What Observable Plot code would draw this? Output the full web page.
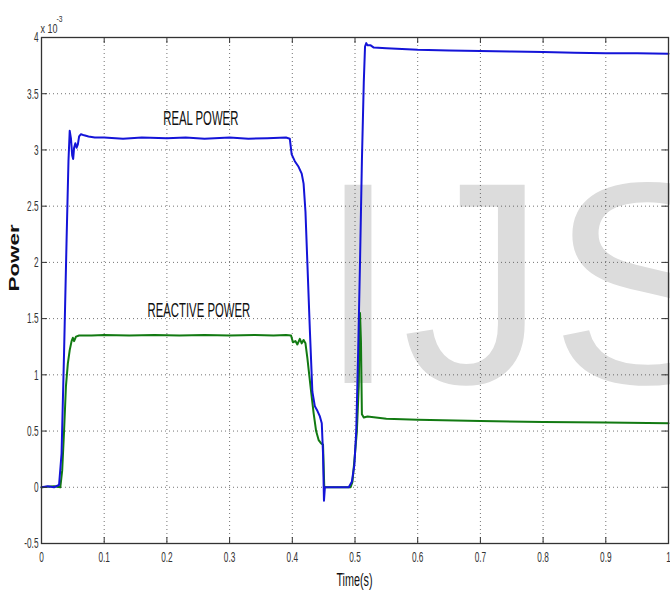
<!DOCTYPE html>
<html><head><meta charset="utf-8">
<script src="https://cdn.jsdelivr.net/npm/d3@7"></script>
<script src="https://cdn.jsdelivr.net/npm/@observablehq/plot@0.6"></script>
<style>
html,body{margin:0;padding:0;background:#fff;overflow:hidden;}
#chart{position:relative;width:670px;height:594px;}
</style>
</head><body><div id="chart"></div>
<script>
// ---- data (power in units of 1e-3) ----
const realT = [0,0.01,0.02,0.028,0.032,0.036,0.04,0.043,0.045,0.047,0.049,0.0505,0.052,0.054,0.056,0.058,0.06,0.063,0.068,0.075,0.085,0.1,0.13,0.16,0.2,0.23,0.26,0.3,0.33,0.36,0.39,0.396,0.399,0.404,0.41,0.415,0.418,0.421,0.424,0.428,0.432,0.436,0.44,0.444,0.447,0.449,0.4505,0.452,0.46,0.48,0.49,0.495,0.499,0.502,0.505,0.508,0.511,0.514,0.516,0.518,0.52,0.525,0.53,0.55,0.6,0.65,0.7,0.75,0.8,0.85,0.9,0.95,1];
const realP = [0,0.01,0,0.02,0.3,1.2,2.2,2.9,3.17,3.1,2.95,2.92,3.02,3.06,3.02,3.05,3.12,3.14,3.13,3.12,3.11,3.11,3.1,3.11,3.105,3.11,3.1,3.11,3.1,3.105,3.11,3.1,2.96,2.9,2.85,2.79,2.7,2.45,2.0,1.4,0.85,0.72,0.68,0.63,0.57,0.3,-0.12,0,0,0,0,0.05,0.2,0.5,1.2,2.0,2.9,3.6,3.92,3.95,3.93,3.93,3.91,3.905,3.89,3.885,3.88,3.875,3.87,3.865,3.86,3.86,3.855];
const reactT = [0,0.02,0.03,0.033,0.036,0.039,0.042,0.045,0.048,0.05,0.052,0.055,0.06,0.08,0.1,0.14,0.18,0.22,0.26,0.3,0.34,0.37,0.39,0.398,0.401,0.405,0.408,0.412,0.415,0.418,0.421,0.424,0.427,0.43,0.434,0.438,0.442,0.446,0.449,0.451,0.46,0.48,0.493,0.496,0.5,0.503,0.506,0.508,0.5095,0.511,0.514,0.52,0.55,0.6,0.7,0.8,0.9,1];
const reactP = [0,0.01,0,0.15,0.5,0.9,1.1,1.22,1.3,1.33,1.3,1.34,1.35,1.35,1.355,1.35,1.355,1.35,1.355,1.35,1.355,1.35,1.355,1.35,1.29,1.3,1.27,1.32,1.28,1.31,1.28,1.15,1.0,0.85,0.66,0.5,0.42,0.39,0.38,0,0,0,0,0.05,0.3,0.5,0.9,1.55,1.3,0.65,0.62,0.63,0.61,0.6,0.59,0.58,0.575,0.57];
const labelText = ["REAL POWER","REACTIVE POWER"];
const labelT = [0.254,0.251];
const labelP = [3.28,1.575];
const xTicks = [0,0.1,0.2,0.3,0.4,0.5,0.6,0.7,0.8,0.9,1];
const yTicks = [-0.5,0,0.5,1,1.5,2,2.5,3,3.5,4];

const real = realT.map((t,i)=>({t,p:realP[i]}));
const reactive = reactT.map((t,i)=>({t,p:reactP[i]}));
const labels = labelText.map((s,i)=>({s,t:labelT[i],p:labelP[i]}));

const font = '"Liberation Sans",Arial,sans-serif';
const W=670,H=594,mL=41,mR=2,mT=37,mB=51;
const pw=W-mL-mR, ph=H-mT-mB;

const plot = Plot.plot({
  width:W,height:H,marginLeft:mL,marginRight:mR,marginTop:mT,marginBottom:mB,
  style:{fontFamily:font,fontSize:"15px",background:"transparent",color:"#222"},
  x:{domain:[0,1]}, y:{domain:[-0.5,4]},
  marks:[
    Plot.gridX(xTicks,{stroke:"#444",strokeOpacity:0.75,strokeDasharray:"1,3"}),
    Plot.gridY(yTicks,{stroke:"#444",strokeOpacity:0.75,strokeDasharray:"1,3"}),
    Plot.line(reactive,{x:"t",y:"p",stroke:"#127a12",strokeWidth:2}),
    Plot.line(real,{x:"t",y:"p",stroke:"#1414d8",strokeWidth:2}),
    Plot.text(labels,{x:"t",y:"p",text:"s",fontSize:21,fill:"#111"}),
    Plot.tickX(xTicks,{x:d=>d,insetTop:ph-6,stroke:"#333"}),
    Plot.tickX(xTicks,{x:d=>d,insetBottom:ph-6,stroke:"#333"}),
    Plot.tickY(yTicks,{y:d=>d,insetRight:pw-6,stroke:"#333"}),
    Plot.tickY(yTicks,{y:d=>d,insetLeft:pw-6,stroke:"#333"}),
    Plot.frame({stroke:"#333",strokeWidth:1.3}),
    Plot.axisX(xTicks,{tickSize:0,tickPadding:8,tickFormat:d=>String(d),label:null,fontSize:15,fill:"#333"}),
    Plot.axisY(yTicks,{tickSize:0,tickPadding:3,tickFormat:d=>String(d),label:null,fontSize:15,fill:"#333"}),
    Plot.text(["Time(s)"],{frameAnchor:"bottom",dx:-0.5,dy:42,fontSize:18,fill:"#111"}),
    Plot.text(["Power"],{frameAnchor:"left",dx:-27,dy:1,rotate:-90,fontSize:14,fontWeight:"bold",fill:"#111"}),
    Plot.text(["x 10"],{frameAnchor:"top-left",dx:-1,dy:-13,textAnchor:"start",fontSize:12,fill:"#333"}),
    Plot.text(["-3"],{frameAnchor:"top-left",dx:15,dy:-22,textAnchor:"start",fontSize:9,fill:"#333"})
  ]
});
const svg = plot.tagName.toLowerCase()==="svg"?plot:plot.querySelector("svg");
// horizontal squeeze of text, as in the reference
const scaleFor = s => labelText.includes(s) ? 0.54 : s==="Time(s)" ? 0.6 : s==="Power" ? 1.6 : (s==="x 10"||s==="-3") ? 0.75 : 0.55;
svg.querySelectorAll("text").forEach(t=>{
  const s = t.textContent, k = scaleFor(s);
  const tr = t.getAttribute("transform");
  if (tr) t.setAttribute("transform", tr+` scale(${k},1)`);
  else {
    const x=+(t.getAttribute("x")||0), y=+(t.getAttribute("y")||0);
    t.setAttribute("x",0); t.setAttribute("y",0);
    t.setAttribute("transform",`translate(${x},${y}) scale(${k},1)`);
  }
});
// watermark behind everything
const ns="http://www.w3.org/2000/svg";
const wm=document.createElementNS(ns,"text");
wm.setAttribute("x",318);wm.setAttribute("y",383);
wm.setAttribute("text-anchor","start");
wm.setAttribute("font-family",font);
wm.setAttribute("font-size","288");wm.setAttribute("fill","#dcdcdc");
wm.setAttribute("letter-spacing","4");
wm.textContent="IJS";
svg.style.overflow="hidden";
const bg=document.createElementNS(ns,"rect");
bg.setAttribute("width",W);bg.setAttribute("height",H);bg.setAttribute("fill","#fff");
svg.insertBefore(wm,svg.firstChild);
svg.insertBefore(bg,svg.firstChild);
document.getElementById("chart").appendChild(plot);
</script></body></html>
